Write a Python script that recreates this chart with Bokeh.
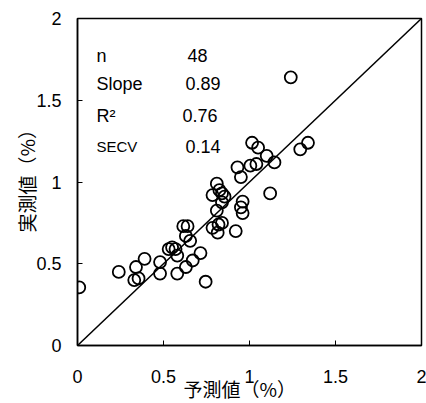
import math
from bokeh.plotting import figure
from bokeh.models import Range1d, FixedTicker, Label, Title
from bokeh.embed import file_html
from bokeh.resources import INLINE

# ---- data ----
predicted = [0.01, 0.24, 0.34, 0.39, 0.33, 0.355, 0.48, 0.48, 0.53, 0.55,
             0.57, 0.58, 0.58, 0.63, 0.67, 0.715, 0.745, 0.63, 0.655, 0.615,
             0.64, 0.785, 0.82, 0.84, 0.815, 0.92, 0.81, 0.96, 0.95, 0.96,
             0.84, 0.785, 0.84, 0.855, 0.81, 1.12, 0.93, 0.95, 1.005, 1.04,
             1.10, 1.145, 1.015, 1.05, 1.295, 1.34, 1.24, 0.825]
measured = [0.355, 0.45, 0.48, 0.53, 0.40, 0.41, 0.51, 0.44, 0.59, 0.60,
            0.59, 0.55, 0.44, 0.48, 0.52, 0.565, 0.39, 0.67, 0.64, 0.73,
            0.73, 0.72, 0.74, 0.75, 0.69, 0.70, 0.825, 0.81, 0.845, 0.88,
            0.875, 0.92, 0.93, 0.91, 0.99, 0.93, 1.09, 1.03, 1.10, 1.11,
            1.16, 1.12, 1.24, 1.21, 1.20, 1.24, 1.64, 0.95]
line_x = [0, 2]
line_y = [0, 2]
tick_values = [0, 0.5, 1, 1.5, 2]
tick_labels = ["0", "0.5", "1", "1.5", "2"]
stat_names = ["n", "Slope", "R²", "SECV"]
stat_values = ["48", "0.89", "0.76", "0.14"]
x_title = "予測値（%）"
y_title = "実測値（%）"

# ---- layout ----
p = figure(width=426, height=403, output_backend="svg", toolbar_location=None,
           x_range=Range1d(0, 2), y_range=Range1d(0, 2),
           min_border_left=77, min_border_right=5, min_border_top=18,
           min_border_bottom=58)
p.grid.visible = False
p.background_fill_color = "white"
p.border_fill_color = "white"
p.outline_line_color = "black"
p.outline_line_width = 1.5

for ax in (p.xaxis[0], p.yaxis[0]):
    ax.ticker = FixedTicker(ticks=tick_values)
    ax.major_label_overrides = {v: t for v, t in zip(tick_values, tick_labels)}
    ax.major_tick_in = 5
    ax.major_tick_out = 0
    ax.minor_tick_in = 0
    ax.minor_tick_out = 0
    ax.axis_line_width = 1.5
    ax.axis_line_color = "black"
    ax.major_tick_line_color = "black"
    ax.major_tick_line_width = 1
    ax.major_label_text_font = "Liberation Sans"
    ax.major_label_text_font_size = "18px"
    ax.major_label_text_color = "black"
p.xaxis[0].major_label_standoff = 24
p.yaxis[0].major_label_standoff = 16

p.add_layout(Title(text=x_title, align="left", offset=106, standoff=-25,
                   text_font="Noto Sans CJK JP", text_font_size="19px",
                   text_font_style="normal", text_color="black"), "below")
p.add_layout(Title(text=y_title, align="left", offset=113, standoff=-13,
                   text_font="Noto Sans CJK JP", text_font_size="19px",
                   text_font_style="normal", text_color="black"), "left")

p.line(line_x, line_y, line_color="black", line_width=1.5)
p.scatter(predicted, measured, marker="circle", size=12, fill_color=None,
          line_color="black", line_width=1.8)

# stats text
name_px = 96
val_px = [187, 185, 182, 185]
base_py = [55, 83, 115, 146]
name_sizes = ["18px", "18px", "18px", "15px"]
def dx(px):
    return (px - 77) / 172.0
def dy(py):
    return (345 - py) / 163.5
for i, (nm, vl) in enumerate(zip(stat_names, stat_values)):
    p.add_layout(Label(x=dx(name_px), y=dy(base_py[i]), text=nm,
                       text_font="Liberation Sans", text_font_size=name_sizes[i],
                       text_baseline="alphabetic", text_align="left",
                       text_color="black"))
    p.add_layout(Label(x=dx(val_px[i]), y=dy(base_py[i]), text=vl,
                       text_font="Liberation Sans", text_font_size="18px",
                       text_baseline="alphabetic", text_align="left",
                       text_color="black"))

open("out.html", "w").write(file_html(p, INLINE))
